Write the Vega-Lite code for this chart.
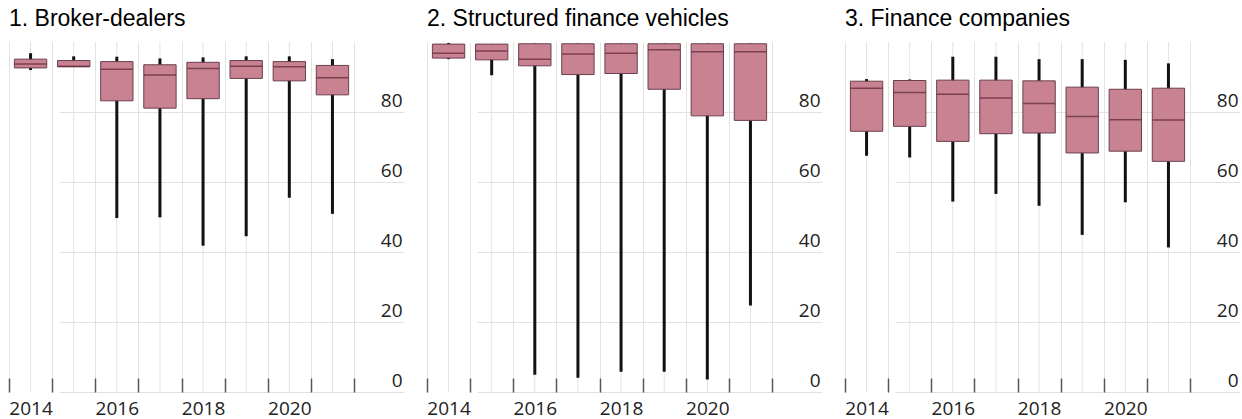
{
  "$schema": "https://vega.github.io/schema/vega-lite/v6.json",
  "padding": {"left": 8, "top": 7, "right": 0, "bottom": 0},
  "background": "white",
  "datasets": {"boxes": [
    {"panel": "1. Broker-dealers", "year": 2014, "min": 92.0, "q1": 92.6, "median": 93.7, "q3": 95.1, "max": 96.8},
    {"panel": "1. Broker-dealers", "year": 2015, "min": 92.9, "q1": 92.9, "median": 93.1, "q3": 94.7, "max": 95.9},
    {"panel": "1. Broker-dealers", "year": 2016, "min": 49.7, "q1": 83.2, "median": 92.2, "q3": 94.4, "max": 95.8},
    {"panel": "1. Broker-dealers", "year": 2017, "min": 49.9, "q1": 81.1, "median": 90.6, "q3": 93.5, "max": 95.3},
    {"panel": "1. Broker-dealers", "year": 2018, "min": 41.8, "q1": 83.8, "median": 92.4, "q3": 94.2, "max": 95.6},
    {"panel": "1. Broker-dealers", "year": 2019, "min": 44.5, "q1": 89.6, "median": 93.1, "q3": 94.7, "max": 95.9},
    {"panel": "1. Broker-dealers", "year": 2020, "min": 55.5, "q1": 88.9, "median": 92.9, "q3": 94.4, "max": 95.9},
    {"panel": "1. Broker-dealers", "year": 2021, "min": 50.9, "q1": 84.9, "median": 89.8, "q3": 93.3, "max": 95.1},
    {"panel": "2. Structured finance vehicles", "year": 2014, "min": 95.1, "q1": 95.4, "median": 96.8, "q3": 99.4, "max": 99.7},
    {"panel": "2. Structured finance vehicles", "year": 2015, "min": 90.5, "q1": 94.9, "median": 97.4, "q3": 99.4, "max": 99.4},
    {"panel": "2. Structured finance vehicles", "year": 2016, "min": 4.9, "q1": 93.2, "median": 95.1, "q3": 99.5, "max": 99.5},
    {"panel": "2. Structured finance vehicles", "year": 2017, "min": 4.1, "q1": 90.7, "median": 96.6, "q3": 99.5, "max": 99.5},
    {"panel": "2. Structured finance vehicles", "year": 2018, "min": 5.8, "q1": 91.0, "median": 96.8, "q3": 99.5, "max": 99.5},
    {"panel": "2. Structured finance vehicles", "year": 2019, "min": 5.8, "q1": 86.5, "median": 97.8, "q3": 99.5, "max": 99.5},
    {"panel": "2. Structured finance vehicles", "year": 2020, "min": 3.6, "q1": 78.9, "median": 97.2, "q3": 99.5, "max": 99.5},
    {"panel": "2. Structured finance vehicles", "year": 2021, "min": 24.7, "q1": 77.6, "median": 97.2, "q3": 99.5, "max": 99.5},
    {"panel": "3. Finance companies", "year": 2014, "min": 67.5, "q1": 74.5, "median": 86.8, "q3": 88.8, "max": 89.4},
    {"panel": "3. Finance companies", "year": 2015, "min": 67.0, "q1": 75.9, "median": 85.6, "q3": 89.0, "max": 89.3},
    {"panel": "3. Finance companies", "year": 2016, "min": 54.4, "q1": 71.6, "median": 85.1, "q3": 89.1, "max": 95.8},
    {"panel": "3. Finance companies", "year": 2017, "min": 56.6, "q1": 73.8, "median": 84.0, "q3": 89.1, "max": 95.8},
    {"panel": "3. Finance companies", "year": 2018, "min": 53.2, "q1": 74.0, "median": 82.4, "q3": 88.9, "max": 95.1},
    {"panel": "3. Finance companies", "year": 2019, "min": 44.9, "q1": 68.3, "median": 78.7, "q3": 87.1, "max": 95.1},
    {"panel": "3. Finance companies", "year": 2020, "min": 54.2, "q1": 68.8, "median": 77.8, "q3": 86.5, "max": 94.9},
    {"panel": "3. Finance companies", "year": 2021, "min": 41.3, "q1": 65.9, "median": 77.7, "q3": 86.8, "max": 93.9}
  ]},
  "spacing": 22,
  "hconcat": [
    {
      "data": {"name": "boxes"},
      "transform": [{"filter": "datum.panel == '1. Broker-dealers'"}],
      "title": "1. Broker-dealers",
      "width": 395, "height": 350,
      "encoding": {
        "x": {"field": "year", "type": "ordinal", "scale": {"range": [0, 345], "paddingInner": 0, "paddingOuter": 0}, "axis": {"labelExpr": "datum.value % 2 == 0 ? datum.label : ''"}}
      },
      "layer": [
        {"mark": {"type": "rule", "color": "#e2e2e2", "strokeWidth": 1},
         "encoding": {"y": {"datum": 100, "type": "quantitative"}}},
        {"mark": {"type": "rule", "color": "#111111", "strokeWidth": 3},
         "encoding": {"y": {"field": "min", "type": "quantitative", "scale": {"domain": [0, 100], "nice": false}, "axis": {"orient": "right", "values": [0, 20, 40, 60, 80]}}, "y2": {"field": "max"}}},
        {"mark": {"type": "bar", "fill": "#c98292", "stroke": "#6b3f4d", "strokeWidth": 1, "width": {"band": 0.75}},
         "encoding": {"y": {"field": "q1", "type": "quantitative"}, "y2": {"field": "q3"}}},
        {"mark": {"type": "tick", "color": "#5a2535", "thickness": 1.5, "size": 32, "orient": "horizontal"},
         "encoding": {"y": {"field": "median", "type": "quantitative"}}}
      ]
    },
    {
      "data": {"name": "boxes"},
      "transform": [{"filter": "datum.panel == '2. Structured finance vehicles'"}],
      "title": "2. Structured finance vehicles",
      "width": 395, "height": 350,
      "encoding": {
        "x": {"field": "year", "type": "ordinal", "scale": {"range": [0, 345], "paddingInner": 0, "paddingOuter": 0}, "axis": {"labelExpr": "datum.value % 2 == 0 ? datum.label : ''"}}
      },
      "layer": [
        {"mark": {"type": "rule", "color": "#e2e2e2", "strokeWidth": 1},
         "encoding": {"y": {"datum": 100, "type": "quantitative"}}},
        {"mark": {"type": "rule", "color": "#111111", "strokeWidth": 3},
         "encoding": {"y": {"field": "min", "type": "quantitative", "scale": {"domain": [0, 100], "nice": false}, "axis": {"orient": "right", "values": [0, 20, 40, 60, 80]}}, "y2": {"field": "max"}}},
        {"mark": {"type": "bar", "fill": "#c98292", "stroke": "#6b3f4d", "strokeWidth": 1, "width": {"band": 0.75}},
         "encoding": {"y": {"field": "q1", "type": "quantitative"}, "y2": {"field": "q3"}}},
        {"mark": {"type": "tick", "color": "#5a2535", "thickness": 1.5, "size": 32, "orient": "horizontal"},
         "encoding": {"y": {"field": "median", "type": "quantitative"}}}
      ]
    },
    {
      "data": {"name": "boxes"},
      "transform": [{"filter": "datum.panel == '3. Finance companies'"}],
      "title": "3. Finance companies",
      "width": 395, "height": 350,
      "encoding": {
        "x": {"field": "year", "type": "ordinal", "scale": {"range": [0, 345], "paddingInner": 0, "paddingOuter": 0}, "axis": {"labelExpr": "datum.value % 2 == 0 ? datum.label : ''"}}
      },
      "layer": [
        {"mark": {"type": "rule", "color": "#e2e2e2", "strokeWidth": 1},
         "encoding": {"y": {"datum": 100, "type": "quantitative"}}},
        {"mark": {"type": "rule", "color": "#111111", "strokeWidth": 3},
         "encoding": {"y": {"field": "min", "type": "quantitative", "scale": {"domain": [0, 100], "nice": false}, "axis": {"orient": "right", "values": [0, 20, 40, 60, 80]}}, "y2": {"field": "max"}}},
        {"mark": {"type": "bar", "fill": "#c98292", "stroke": "#6b3f4d", "strokeWidth": 1, "width": {"band": 0.75}},
         "encoding": {"y": {"field": "q1", "type": "quantitative"}, "y2": {"field": "q3"}}},
        {"mark": {"type": "tick", "color": "#5a2535", "thickness": 1.5, "size": 32, "orient": "horizontal"},
         "encoding": {"y": {"field": "median", "type": "quantitative"}}}
      ]
    }
  ],
  "config": {
    "view": {"stroke": null},
    "title": {"font": "Liberation Sans", "fontSize": 23, "fontWeight": "normal", "color": "#000000", "anchor": "start", "frame": "group", "baseline": "alphabetic", "offset": 11},
    "axis": {"labelOverlap": false, "title": null, "labelFont": "Open Sans", "labelFontSize": 19, "labelColor": "#222222", "grid": true, "gridColor": "#e2e2e2", "gridWidth": 1, "domain": false},
    "axisX": {"tickBand": "extent", "ticks": true, "tickSize": -14, "tickColor": "#555555", "tickWidth": 1.5, "labelAngle": 0, "labelPadding": 21},
    "axisY": {"ticks": false, "labelAlign": "right", "labelBaseline": "alphabetic", "labelPadding": -2, "labelOffset": -6}
  }
}
